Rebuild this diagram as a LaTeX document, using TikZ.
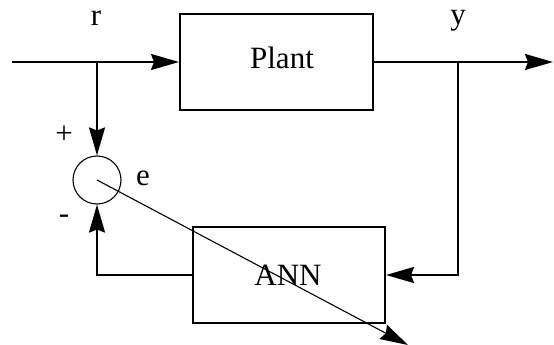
\documentclass[tikz,border=0pt]{standalone}
\usepackage{fontspec}
\setmainfont{Liberation Serif}
\usetikzlibrary{arrows.meta}
\begin{document}
\begin{tikzpicture}[x=1pt,y=-1pt,
  font=\fontsize{31}{36}\selectfont,
  blockbox/.style={draw,line width=2pt,inner sep=0pt},
  sig/.style={line width=2pt,-{Stealth[length=28pt,width=16pt,inset=3pt]}},
  thinsig/.style={line width=1.1pt,-{Stealth[length=28pt,width=16pt,inset=3pt]}},
  lbl/.style={inner sep=0pt,anchor=base}]
\useasboundingbox (0,0) rectangle (554,345);
\node[blockbox,minimum width=193pt,minimum height=95pt] (plant) at (276.5,62) {};
\node[lbl] (plantlbl) at (282,68) {Plant};
\node[blockbox,minimum width=192pt,minimum height=96pt] (ann) at (289,275) {};
\node[lbl] (annlbl) at (288,285) {ANN};
\node[draw,circle,line width=1.1pt,minimum size=48pt,inner sep=0pt] (sum) at (97,180) {};
\coordinate (in) at (12,62);
\coordinate (br1) at (97,62);
\coordinate (br2) at (458,62);
\coordinate (out) at (553,62);
\coordinate (diag) at (408,345);
\draw[sig] (in) -- (plant.west);
\draw[sig] (br1) -- (sum.north);
\draw[sig] (plant.east) -- (out);
\draw[sig] (br2) |- (ann.east);
\draw[sig] (ann.west) -| (sum.south);
\draw[thinsig] (sum.center) -- (diag);
\node[lbl] (r) at (96,26) {r};
\node[lbl] (y) at (458,25) {y};
\node[lbl] (e) at (143,185) {e};
\node[inner sep=0pt] (plus) at (64,135) {+};
\node[inner sep=0pt] (minus) at (64,219) {-};
\end{tikzpicture}
\end{document}
